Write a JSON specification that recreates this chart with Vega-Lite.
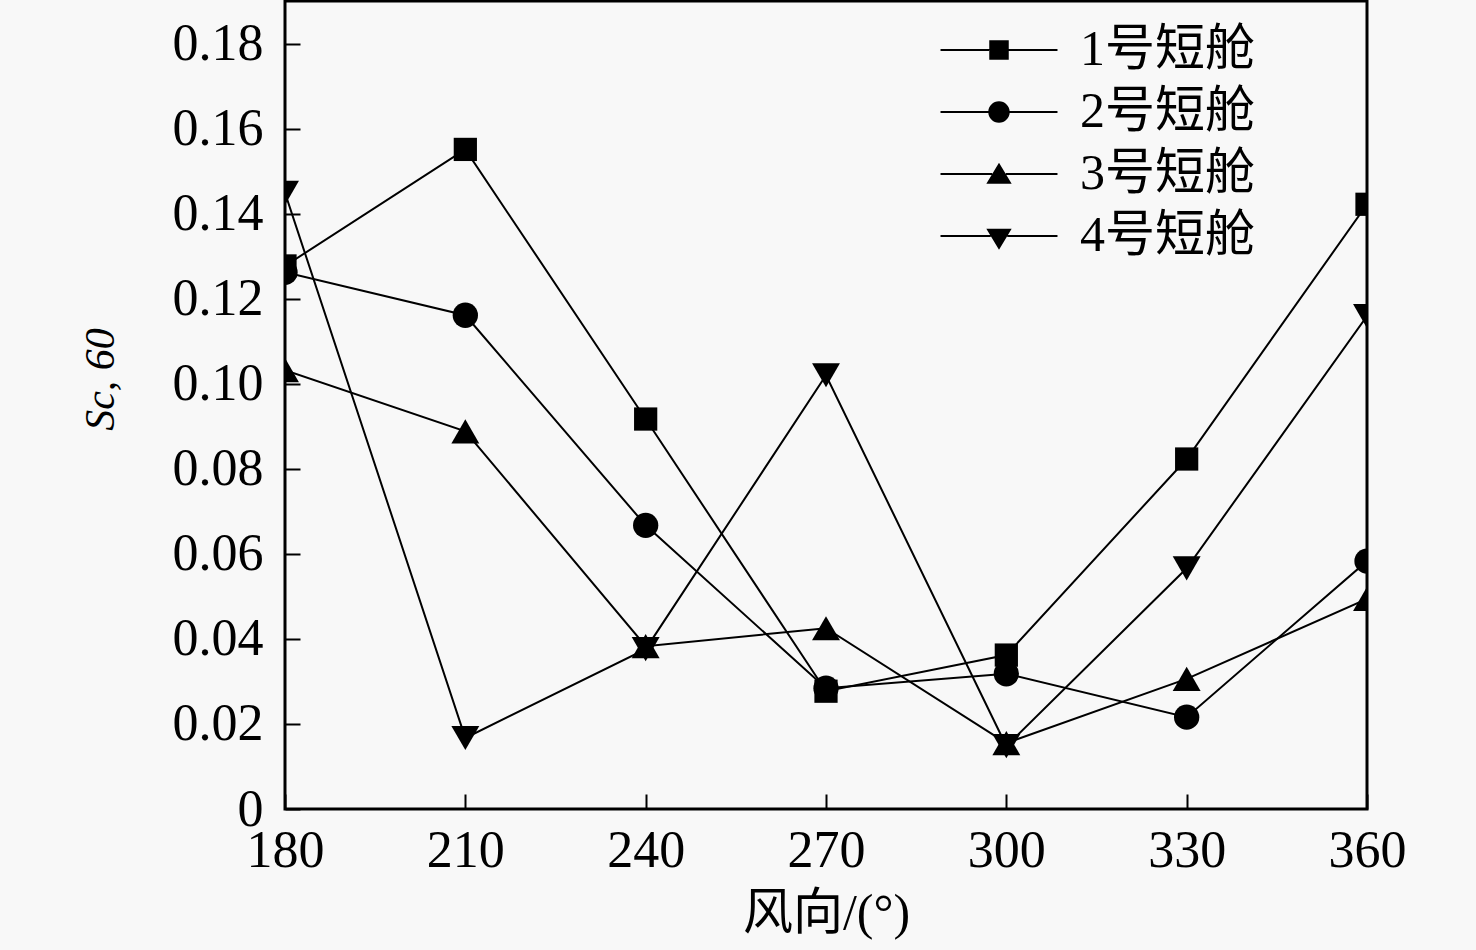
{
  "$schema": "https://vega.github.io/schema/vega-lite/v6.json",
  "autosize": "none",
  "width": 1082,
  "height": 808,
  "padding": {"left": 285, "top": 1, "right": 109, "bottom": 141},
  "background": "#f8f8f8",
  "data": {
    "values": [
      {"wind": 180, "series": "1号短舱", "s": 0.1277},
      {"wind": 210, "series": "1号短舱", "s": 0.1551},
      {"wind": 240, "series": "1号短舱", "s": 0.0917},
      {"wind": 270, "series": "1号短舱", "s": 0.0277},
      {"wind": 300, "series": "1号短舱", "s": 0.0362},
      {"wind": 330, "series": "1号短舱", "s": 0.0823},
      {"wind": 360, "series": "1号短舱", "s": 0.1422},
      {"wind": 180, "series": "2号短舱", "s": 0.1262},
      {"wind": 210, "series": "2号短舱", "s": 0.1161},
      {"wind": 240, "series": "2号短舱", "s": 0.0667},
      {"wind": 270, "series": "2号短舱", "s": 0.0284},
      {"wind": 300, "series": "2号短舱", "s": 0.0318},
      {"wind": 330, "series": "2号短舱", "s": 0.0216},
      {"wind": 360, "series": "2号短舱", "s": 0.0583},
      {"wind": 180, "series": "3号短舱", "s": 0.1032},
      {"wind": 210, "series": "3号短舱", "s": 0.0888},
      {"wind": 240, "series": "3号短舱", "s": 0.0383},
      {"wind": 270, "series": "3号短舱", "s": 0.0425},
      {"wind": 300, "series": "3号短舱", "s": 0.0155},
      {"wind": 330, "series": "3号短舱", "s": 0.0306},
      {"wind": 360, "series": "3号短舱", "s": 0.0494},
      {"wind": 180, "series": "4号短舱", "s": 0.1449},
      {"wind": 210, "series": "4号短舱", "s": 0.0167},
      {"wind": 240, "series": "4号短舱", "s": 0.0376},
      {"wind": 270, "series": "4号短舱", "s": 0.1020},
      {"wind": 300, "series": "4号短舱", "s": 0.0148},
      {"wind": 330, "series": "4号短舱", "s": 0.0566},
      {"wind": 360, "series": "4号短舱", "s": 0.1159}
    ]
  },
  "encoding": {
    "x": {
      "field": "wind",
      "type": "quantitative",
      "scale": {"domain": [180, 360], "nice": false, "zero": false},
      "axis": {
        "title": "风向/(°)",
        "values": [180, 210, 240, 270, 300, 330, 360],
        "titleY": 104,
        "titleBaseline": "middle",
        "labelPadding": 31,
        "labelBaseline": "top"
      }
    },
    "y": {
      "field": "s",
      "type": "quantitative",
      "scale": {"domain": [0, 0.19], "nice": false},
      "axis": {
        "title": "Sc, 60",
        "values": [0, 0.02, 0.04, 0.06, 0.08, 0.1, 0.12, 0.14, 0.16, 0.18],
        "labelExpr": "datum.value == 0 ? '0' : format(datum.value, '.2f')",
        "labelPadding": 37,
        "titleAngle": -90,
        "titleX": -185,
        "titleY": 378,
        "titleAlign": "center",
        "titleBaseline": "middle",
        "titleFontStyle": "italic",
        "titleFontSize": 42
      }
    }
  },
  "layer": [
    {
      "mark": {"type": "line", "color": "black", "strokeWidth": 2, "clip": true},
      "encoding": {"detail": {"field": "series", "type": "nominal"}}
    },
    {
      "transform": [{"filter": "datum.series == '1号短舱'"}],
      "mark": {"type": "point", "shape": "square", "filled": true, "color": "black", "opacity": 1, "size": 540, "clip": true}
    },
    {
      "transform": [{"filter": "datum.series == '2号短舱'"}],
      "mark": {"type": "point", "shape": "circle", "filled": true, "color": "black", "opacity": 1, "size": 640, "clip": true}
    },
    {
      "transform": [{"filter": "datum.series == '3号短舱'"}],
      "mark": {"type": "point", "shape": "triangle-up", "filled": true, "color": "black", "opacity": 1, "size": 780, "clip": true}
    },
    {
      "transform": [{"filter": "datum.series == '4号短舱'"}],
      "mark": {"type": "point", "shape": "triangle-down", "filled": true, "color": "black", "opacity": 1, "size": 780, "clip": true}
    },
    {
      "transform": [{"filter": "false"}],
      "mark": {"type": "point", "filled": true, "color": "black", "opacity": 1},
      "encoding": {
        "shape": {
          "field": "series",
          "type": "nominal",
          "scale": {
            "domain": ["1号短舱", "2号短舱", "3号短舱", "4号短舱"],
            "range": [
              "M-6,-0.11H-1V0.11H-6ZM1,-0.11H6V0.11H1ZM-1,-1H1V1H-1Z",
              "M-6,-0.11H-1.05V0.11H-6ZM1.05,-0.11H6V0.11H1.05ZM-1.1,0A1.1,1.1 0 1,1 1.1,0A1.1,1.1 0 1,1 -1.1,0Z",
              "M-6,-0.11H-0.7V0.11H-6ZM0.7,-0.11H6V0.11H0.7ZM0,-1.15L1.3,1H-1.3Z",
              "M-6,-0.11H-0.85V0.11H-6ZM0.85,-0.11H6V0.11H0.85ZM-1.3,-0.75H1.3L0,1.4Z"
            ]
          },
          "legend": {
            "title": null,
            "orient": "none",
            "legendX": 689,
            "legendY": 24,
            "padding": 0,
            "labelOffset": 56,
            "rowPadding": 12,
            "symbolSize": 380,
            "labelFontSize": 50,
            "labelLimit": 0,
            "labelFont": "Liberation Serif, Noto Sans CJK SC",
            "labelColor": "black",
            "encode": {
              "symbols": {
                "update": {
                  "fill": {"value": "black"},
                  "opacity": {"value": 1}
                }
              }
            }
          }
        }
      }
    }
  ],
  "config": {
    "view": {"stroke": "black", "strokeWidth": 3},
    "axis": {
      "domain": false,
      "grid": false,
      "tickSize": -15,
      "tickWidth": 2,
      "tickColor": "black",
      "labelFont": "Liberation Serif",
      "labelFontSize": 52,
      "labelColor": "black",
      "labelOverlap": false,
      "labelFlush": false,
      "labelBound": false,
      "titleFont": "Liberation Serif, Noto Sans CJK SC",
      "titleFontSize": 50,
      "titleFontWeight": "normal",
      "titleColor": "black"
    }
  }
}
